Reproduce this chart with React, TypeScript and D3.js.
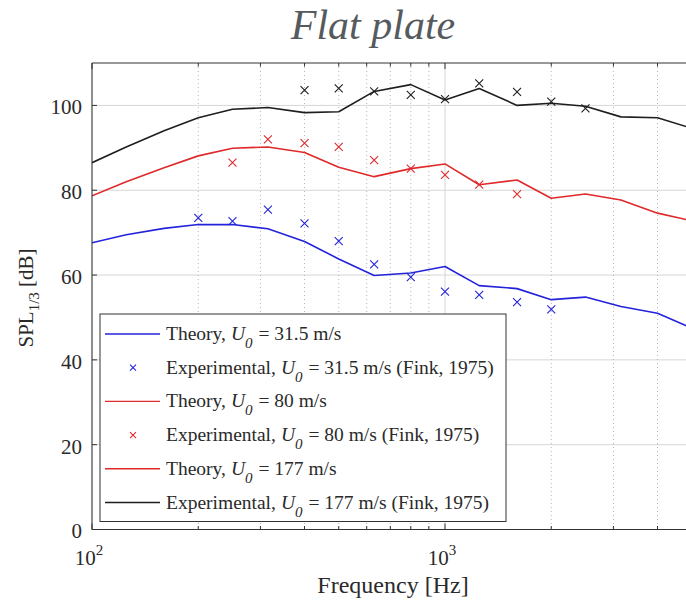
import React from 'react'
import * as d3 from 'd3'

// 1/3-octave band centres [Hz]
const bands = [100, 125, 160, 200, 250, 315, 400, 500, 630, 800, 1000, 1250, 1600, 2000, 2500, 3150, 4000, 5000]

// theory curves, SPL 1/3 [dB]
const theory31 = [67.6, 69.5, 71, 71.9, 71.9, 70.9, 67.9, 63.8, 59.9, 60.5, 62, 57.5, 56.8, 54.2, 54.8, 52.6, 51, 47.5]
const theory80 = [78.7, 82, 85.3, 88.1, 89.9, 90.2, 88.9, 85.4, 83.2, 85.1, 86.2, 81.3, 82.4, 78.1, 79.1, 77.7, 74.6, 72.8]
const theory177 = [86.5, 90.2, 94, 97.1, 99.1, 99.5, 98.3, 98.5, 103.3, 104.9, 101.3, 104, 100, 100.5, 99.8, 97.3, 97.1, 94.6]

// experiments (Fink, 1975)
const expFreq31 = [200, 250, 315, 400, 500, 630, 800, 1000, 1250, 1600, 2000]
const exp31 = [73.5, 72.7, 75.4, 72.2, 68, 62.5, 59.5, 56.1, 55.3, 53.6, 51.9]
const expFreq80 = [250, 315, 400, 500, 630, 800, 1000, 1250, 1600]
const exp80 = [86.5, 92, 91.1, 90.2, 87.1, 85.1, 83.6, 81.3, 79.1]
const expFreq177 = [400, 500, 630, 800, 1000, 1250, 1600, 2000, 2500]
const exp177 = [103.6, 104, 103.3, 102.5, 101.5, 105.2, 103.2, 100.9, 99.3]

const yTicks = [0, 20, 40, 60, 80, 100]
const xMajor = [100, 1000]
const xMinor = [200, 300, 400, 500, 600, 700, 800, 900, 2000, 3000, 4000]

const BLUE = '#2323dc'
const RED = '#e0292b'
const BLACK = '#1e1e1e'
const FONT = '"Liberation Serif", "Times New Roman", serif'

const W = 686
const H = 603
const left = 92
const top = 63
const bottom = 529.5

const x = d3.scaleLog().domain([100, 5000]).range([left, left + 353 * Math.log10(50)])
const y = d3.scaleLinear().domain([0, 110]).range([bottom, top])
const right = x(5000)

const line = d3
  .line<[number, number]>()
  .x(d => x(d[0]))
  .y(d => y(d[1]))

const Cross = ({ cx, cy, r, color }: { cx: number; cy: number; r: number; color: string }) => (
  <path d={`M${cx - r},${cy - r}L${cx + r},${cy + r}M${cx - r},${cy + r}L${cx + r},${cy - r}`} stroke={color} strokeWidth={1.1} fill="none" />
)

const U0 = () => (
  <>
    <tspan fontStyle="italic" dx={5}>U</tspan>
    <tspan fontStyle="italic" fontSize={15} dy={8}>0</tspan>
    <tspan dy={-8} dx={1}> = </tspan>
  </>
)

const legendRows = [
  { kind: 'line', color: BLUE, pre: 'Theory,', post: '31.5 m/s' },
  { kind: 'mark', color: BLUE, pre: 'Experimental,', post: '31.5 m/s (Fink, 1975)' },
  { kind: 'line', color: RED, pre: 'Theory,', post: '80 m/s' },
  { kind: 'mark', color: RED, pre: 'Experimental,', post: '80 m/s (Fink, 1975)' },
  { kind: 'line', color: RED, pre: 'Theory,', post: '177 m/s' },
  { kind: 'line', color: BLACK, pre: 'Experimental,', post: '177 m/s (Fink, 1975)' },
]

export default function App() {
  const series = [
    { t: theory31, ef: expFreq31, ev: exp31, color: BLUE },
    { t: theory80, ef: expFreq80, ev: exp80, color: RED },
    { t: theory177, ef: expFreq177, ev: exp177, color: BLACK },
  ]

  return (
    <div style={{ position: 'absolute', left: 0, top: 0 }}>
      <svg width={W} height={H} style={{ display: 'block', background: '#fff' }} fontFamily={FONT}>
        <defs>
          <clipPath id="plot">
            <rect x={left} y={top} width={right - left} height={bottom - top} />
          </clipPath>
        </defs>

        {/* title */}
        <text x={373} y={39} textAnchor="middle" fontSize={42} fontStyle="italic" fill="#555a5e">
          Flat plate
        </text>

        {/* grid */}
        {yTicks.map(v => (
          <line key={'gy' + v} x1={left} x2={right} y1={y(v)} y2={y(v)} stroke="#d6d6d6" strokeWidth={1} />
        ))}
        {xMinor.map(v => (
          <line key={'gm' + v} x1={x(v)} x2={x(v)} y1={top} y2={bottom} stroke="#b5b5b5" strokeWidth={1} strokeDasharray="1,3" />
        ))}
        {xMajor.map(v => (
          <line key={'gM' + v} x1={x(v)} x2={x(v)} y1={top} y2={bottom} stroke="#d6d6d6" strokeWidth={1} />
        ))}

        {/* data */}
        <g clipPath="url(#plot)">
          {series.map((s, i) => (
            <path
              key={'l' + i}
              d={line(bands.map((f, j) => [f, s.t[j]] as [number, number])) || ''}
              fill="none"
              stroke={s.color}
              strokeWidth={1.6}
              strokeLinejoin="round"
            />
          ))}
          {series.map((s, i) =>
            s.ef.map((f, j) => <Cross key={'m' + i + '-' + j} cx={x(f)} cy={y(s.ev[j])} r={4} color={s.color} />),
          )}
        </g>

        {/* axes frame */}
        <line x1={left} x2={left} y1={top} y2={bottom} stroke="#333" strokeWidth={1} />
        <line x1={left} x2={right} y1={top} y2={top} stroke="#333" strokeWidth={1} />
        <line x1={left} x2={right} y1={bottom} y2={bottom} stroke="#333" strokeWidth={1} />

        {/* y ticks */}
        {yTicks.map(v => (
          <g key={'yt' + v}>
            <line x1={left} x2={left + 5} y1={y(v)} y2={y(v)} stroke="#333" />
            <text x={82} y={y(v) + 1.5} dy="0.35em" textAnchor="end" fontSize={21} fill="#2a2a2a">
              {v}
            </text>
          </g>
        ))}

        {/* x ticks */}
        {xMajor.map(v => (
          <g key={'xt' + v}>
            <line x1={x(v)} x2={x(v)} y1={bottom} y2={bottom - 6} stroke="#333" />
            <line x1={x(v)} x2={x(v)} y1={top} y2={top + 6} stroke="#333" />
            <text x={x(v) - 3} y={565} textAnchor="middle" fontSize={21} fill="#2a2a2a">
              10
              <tspan fontSize={15} dy={-10}>{Math.round(Math.log10(v))}</tspan>
            </text>
          </g>
        ))}
        {xMinor.map(v => (
          <g key={'xm' + v}>
            <line x1={x(v)} x2={x(v)} y1={bottom} y2={bottom - 3.5} stroke="#333" />
            <line x1={x(v)} x2={x(v)} y1={top} y2={top + 3.5} stroke="#333" />
          </g>
        ))}

        {/* axis titles */}
        <text x={393} y={593} textAnchor="middle" fontSize={24} fill="#2a2a2a">
          Frequency [Hz]
        </text>
        <text transform="translate(33,298) rotate(-90)" textAnchor="middle" fontSize={21} fill="#2a2a2a">
          SPL
          <tspan fontSize={15} dy={6}>1/3</tspan>
          <tspan dy={-6}> [dB]</tspan>
        </text>

        {/* legend */}
        <rect x={100} y={314} width={406} height={207.5} fill="#fff" stroke="#333" strokeWidth={1} />
        {legendRows.map((r, i) => {
          const cy = 334 + i * 33.7
          return (
            <g key={'lg' + i}>
              {r.kind === 'line' ? (
                <line x1={105} x2={160} y1={cy} y2={cy} stroke={r.color} strokeWidth={1.4} />
              ) : (
                <Cross cx={133} cy={cy} r={3} color={r.color} />
              )}
              <text x={166} y={cy + 6} fontSize={19.5} fill="#2a2a2a">
                {r.pre}
                <U0 />
                {r.post}
              </text>
            </g>
          )
        })}
      </svg>
    </div>
  )
}
